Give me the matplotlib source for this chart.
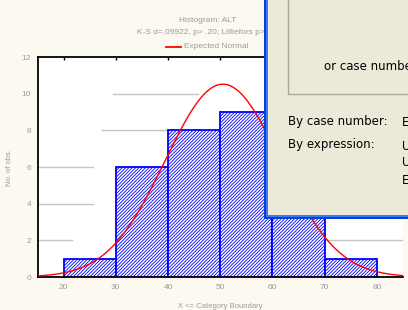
import numpy as np
import matplotlib
matplotlib.use("Agg")
import matplotlib.pyplot as plt
from matplotlib.patches import Rectangle

# histogram data (ALT)
binEdges = [20, 30, 40, 50, 60, 70]
counts = [1, 6, 8, 9, 4, 1]
binWidth = 10
xTicks = [20, 30, 40, 50, 60, 70, 80]
yTicks = [0, 2, 4, 6, 8, 10, 12]

# expected normal parameters
meanAlt = 50.5
sdAlt = 11.0
nObs = sum(counts)

# partial grey grid segments seen in the picture: (y, xStart, xEnd)
gridSegments = [(10, 29.4, 45.8), (8, 27.3, 43.7), (6, 15.2, 25.6),
                (4, 15.2, 25.6), (2, 15.2, 21.7), (2, 70.2, 85.0)]

W, H = 408, 310
cream = "#fcfaf0"
grey = "#9a9a9a"


def fx(px):
    return px / W


def fy(py):
    return 1 - py / H


matplotlib.rcParams['hatch.linewidth'] = 0.6
fig = plt.figure(figsize=(W / 100, H / 100), dpi=100, facecolor=cream)

ax = fig.add_axes([fx(38), fy(277), (403 - 38) / W, (277 - 57) / H])
ax.set_facecolor("white")

for (yv, x0, x1) in gridSegments:
    ax.plot([x0, x1], [yv, yv], color="#c4c4c4", lw=1.0, zorder=1)

ax.bar(binEdges, counts, width=binWidth, align='edge', facecolor="white",
       edgecolor="#0000ff", hatch="//////////", linewidth=1.3, zorder=2)

xs = np.linspace(15, 85, 300)
ys = nObs * binWidth / (sdAlt * np.sqrt(2 * np.pi)) * np.exp(-0.5 * ((xs - meanAlt) / sdAlt) ** 2)
ax.plot(xs, ys, color="#ff0000", lw=1.0, zorder=3)

ax.set_xlim(15.1, 85)
ax.set_ylim(0, 12)
ax.set_xticks(xTicks)
ax.set_yticks(yTicks)
ax.tick_params(axis='both', labelsize=6, labelcolor=grey, length=2, width=1,
               direction='in', top=True, pad=5)
ax.tick_params(axis='y', length=0)
for lab in ax.get_xticklabels() + ax.get_yticklabels():
    lab.set_family("Liberation Sans")
for s in ['left', 'bottom', 'top']:
    ax.spines[s].set_linewidth(1.3)
    ax.spines[s].set_color("black")
ax.spines['right'].set_visible(False)

ax.set_xlabel("X <= Category Boundary", fontsize=5.5, color=grey,
              family="Liberation Sans", labelpad=9)
ax.set_ylabel("No. of obs.", fontsize=5.5, color=grey, family="Liberation Sans")
ax.yaxis.set_label_coords((13 - 38) / 365, 0.5)

fig.text(fx(208), fy(20), "Histogram: ALT", fontsize=6, color=grey,
         family="Liberation Sans", ha='center', va='center')
fig.text(fx(208), fy(33), "K-S d=.09922, p> .20; Lilliefors p> .20", fontsize=6,
         color=grey, family="Liberation Sans", ha='center', va='center')
fig.lines.append(plt.Line2D([fx(166), fx(181)], [fy(47), fy(47)], color="#ff0000",
                            lw=1.3, transform=fig.transFigure, figure=fig))
fig.text(fx(184), fy(47), "Expected Normal", fontsize=6, color=grey,
         family="Liberation Sans", ha='left', va='center')

# dialog window lying over the chart
fig.patches.append(Rectangle((fx(264), fy(219)), fx(150), 219 / H, facecolor="#0a3cd8",
                             edgecolor="none", transform=fig.transFigure, figure=fig, zorder=5))
fig.patches.append(Rectangle((fx(266), fy(217)), fx(150), 217 / H, facecolor="#3a7af2",
                             edgecolor="none", transform=fig.transFigure, figure=fig, zorder=5))
fig.patches.append(Rectangle((fx(268), fy(215)), fx(150), 215 / H, facecolor="#ece9d8",
                             edgecolor="none", transform=fig.transFigure, figure=fig, zorder=5))
fig.patches.append(Rectangle((fx(288), fy(94)), fx(130), 96 / H, facecolor="none",
                             edgecolor="#aca899", lw=1.0, transform=fig.transFigure,
                             figure=fig, zorder=6))

dlgFont = dict(fontsize=8.5, color="#000000", family="DejaVu Sans", va='center', zorder=7)
fig.text(fx(324), fy(66), "or case number", ha='left', **dlgFont)
fig.text(fx(288), fy(122), "By case number:", ha='left', **dlgFont)
fig.text(fx(288), fy(144), "By expression:", ha='left', **dlgFont)
fig.text(fx(402), fy(122), "E", ha='left', **dlgFont)
fig.text(fx(402), fy(146), "U", ha='left', **dlgFont)
fig.text(fx(402), fy(163), "U", ha='left', **dlgFont)
fig.text(fx(402), fy(180), "E", ha='left', **dlgFont)

fig.savefig("out.png", dpi=100, facecolor=cream)
